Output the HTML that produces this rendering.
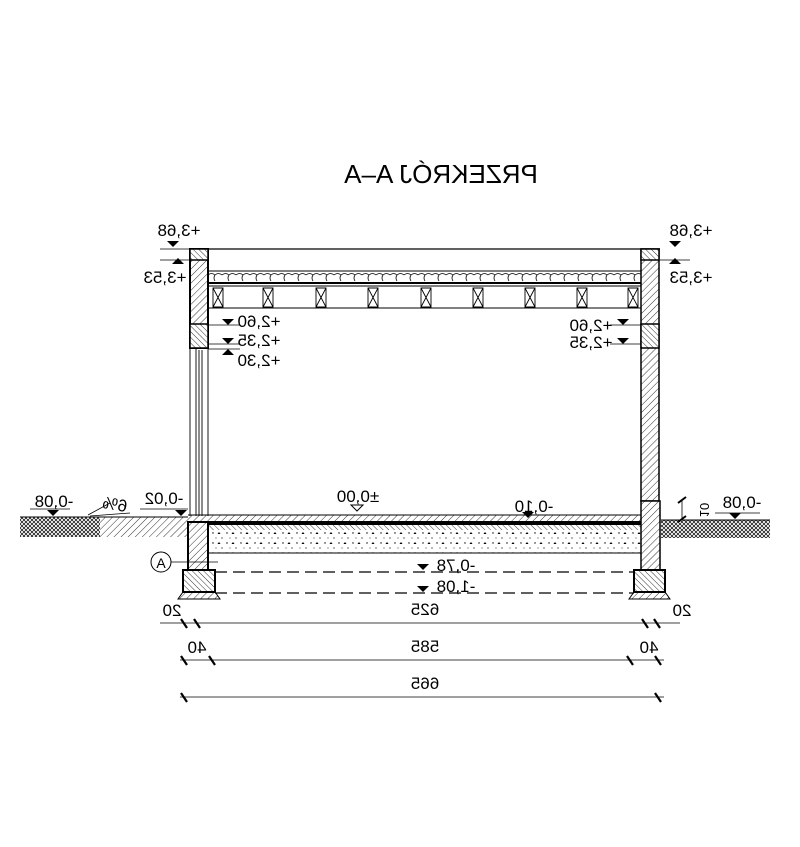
<!DOCTYPE html>
<html><head><meta charset="utf-8"><style>
html,body{margin:0;padding:0;background:#fff}
svg{display:block}
text{font-family:"Liberation Sans",sans-serif;fill:#000}
</style></head><body>
<svg width="800" height="847" viewBox="0 0 800 847" xmlns="http://www.w3.org/2000/svg">
<defs>
<pattern id="h1" width="5" height="5" patternUnits="userSpaceOnUse" patternTransform="rotate(45)">
<line x1="0" y1="0" x2="0" y2="5" stroke="#000" stroke-width="0.8"/></pattern>
<pattern id="h2" width="4" height="4" patternUnits="userSpaceOnUse" patternTransform="rotate(-45)">
<line x1="0" y1="0" x2="0" y2="4" stroke="#000" stroke-width="0.8"/></pattern>
<pattern id="x1" width="4" height="4" patternUnits="userSpaceOnUse">
<path d="M0 0L4 4M4 0L0 4" stroke="#000" stroke-width="0.7"/></pattern>
<pattern id="dots" width="14" height="10" patternUnits="userSpaceOnUse">
<circle cx="3" cy="3" r="0.7"/><path d="M9 2l1.5 2h-3z"/><circle cx="12" cy="8" r="0.6"/><circle cx="6" cy="8" r="0.5"/></pattern>
<pattern id="scal" width="14" height="11" patternUnits="userSpaceOnUse" x="208" y="271">
<path d="M0 4Q3.5 1 7 4Q5 7 7 10M7 4Q10.5 1 14 4" fill="none" stroke="#000" stroke-width="0.8"/></pattern>
</defs>

<text transform="translate(441,183) scale(-1,1)" text-anchor="middle" font-size="26">PRZEKRÓJ A–A</text>

<line x1="190" y1="249" x2="660" y2="249" stroke="#000" stroke-width="1.2"/>
<rect x="208" y="271" width="433" height="11" fill="url(#scal)"/>
<line x1="208" y1="271" x2="641" y2="271" stroke="#000"/>
<line x1="208" y1="283" x2="641" y2="283" stroke="#000" stroke-width="2"/>
<line x1="208" y1="286" x2="641" y2="286" stroke="#000"/>
<line x1="208" y1="308" x2="641" y2="308" stroke="#000"/>
<g stroke="#000" fill="none" stroke-width="0.9">
<path d="M213 288h10v19h-10zM213 288l10 19M223 288l-10 19"/>
<path d="M263 288h10v19h-10zM263 288l10 19M273 288l-10 19"/>
<path d="M316 288h10v19h-10zM316 288l10 19M326 288l-10 19"/>
<path d="M368 288h10v19h-10zM368 288l10 19M378 288l-10 19"/>
<path d="M421 288h10v19h-10zM421 288l10 19M431 288l-10 19"/>
<path d="M473 288h10v19h-10zM473 288l10 19M483 288l-10 19"/>
<path d="M525 288h10v19h-10zM525 288l10 19M535 288l-10 19"/>
<path d="M577 288h10v19h-10zM577 288l10 19M587 288l-10 19"/>
<path d="M628 288h10v19h-10zM628 288l10 19M638 288l-10 19"/>
</g>

<rect x="190" y="249" width="18" height="99" fill="url(#h1)" stroke="#000" stroke-width="2"/>
<rect x="190" y="249" width="18" height="11" fill="#fff" stroke="#000" stroke-width="1.5"/>
<rect x="190" y="249" width="18" height="11" fill="url(#h2)"/>
<rect x="190" y="324" width="18" height="24" fill="#fff" stroke="#000" stroke-width="1.5"/>
<rect x="190" y="324" width="18" height="24" fill="url(#h2)"/>
<g stroke="#000" stroke-width="0.9">
<line x1="190" y1="348" x2="190" y2="516"/><line x1="196" y1="348" x2="196" y2="516"/>
<line x1="199" y1="350" x2="199" y2="516"/><line x1="202" y1="350" x2="202" y2="516"/>
<line x1="208" y1="348" x2="208" y2="516"/>
</g>

<rect x="641" y="249" width="18" height="252" fill="url(#h1)" stroke="#000" stroke-width="1.5"/>
<rect x="641" y="249" width="18" height="11" fill="#fff" stroke="#000" stroke-width="1.5"/>
<rect x="641" y="249" width="18" height="11" fill="url(#h2)"/>
<rect x="641" y="324" width="18" height="24" fill="#fff" stroke="#000" stroke-width="1.5"/>
<rect x="641" y="324" width="18" height="24" fill="url(#h2)"/>

<rect x="20" y="517" width="80" height="20" fill="url(#x1)"/>
<rect x="100" y="517" width="88" height="20" fill="url(#h1)"/>
<line x1="20" y1="517" x2="188" y2="517" stroke="#000"/>
<rect x="661" y="520" width="109" height="18" fill="url(#x1)"/>
<line x1="661" y1="520" x2="770" y2="520" stroke="#000"/>

<rect x="188" y="515" width="453" height="6" fill="url(#h1)"/>
<line x1="188" y1="515" x2="641" y2="515" stroke="#000"/>
<rect x="208" y="521" width="433" height="4" fill="#000"/>
<rect x="208" y="525" width="433" height="5" fill="url(#h2)"/>
<rect x="208" y="530" width="433" height="23" fill="url(#dots)"/>
<line x1="208" y1="553" x2="641" y2="553" stroke="#000"/>

<rect x="188" y="522" width="20" height="48" fill="#fff" stroke="#000" stroke-width="2"/>
<rect x="188" y="522" width="20" height="48" fill="url(#h1)"/>
<rect x="641" y="501" width="19" height="69" fill="#fff" stroke="#000" stroke-width="1.5"/>
<rect x="641" y="501" width="19" height="69" fill="url(#h1)"/>
<rect x="183" y="570" width="32" height="22" fill="#fff" stroke="#000" stroke-width="2"/>
<rect x="183" y="570" width="32" height="22" fill="url(#h2)"/>
<path d="M183 592h32l5 7h-42z" fill="url(#h1)" stroke="#000"/>
<rect x="634" y="570" width="31" height="22" fill="#fff" stroke="#000" stroke-width="2"/>
<rect x="634" y="570" width="31" height="22" fill="url(#h2)"/>
<path d="M634 592h31l5 7h-41z" fill="url(#h1)" stroke="#000"/>

<g stroke="#000" stroke-width="1.3" stroke-dasharray="12,6">
<line x1="215" y1="572" x2="634" y2="572"/><line x1="215" y1="593" x2="634" y2="593"/>
</g>
<circle cx="161" cy="562" r="10" fill="#fff" stroke="#000"/>
<text transform="translate(161,568)" text-anchor="middle" font-size="14">A</text>
<line x1="171" y1="562" x2="218" y2="562" stroke="#000" stroke-width="0.8"/>

<g fill="#000">
<path d="M167 241h12l-6 6z"/><path d="M172 264l6-6 6 6z"/>
<path d="M222 319h12l-6 6z"/><path d="M222 338h12l-6 6z"/><path d="M222 355l6-6 6 6z"/>
<path d="M669 241h12l-6 6z"/><path d="M669 264l6-6 6 6z"/>
<path d="M617 319h12l-6 6z"/><path d="M617 338h12l-6 6z"/>
<path d="M47 510h12l-6 6z"/><path d="M175 510h12l-6 6z"/>
<path d="M522 512h12l-6 6z"/><path d="M729 513h12l-6 6z"/>
<path d="M417 564h12l-6 6z"/><path d="M417 586h12l-6 6z"/>
</g>
<path d="M351 505h12l-6 6z" fill="#fff" stroke="#000"/>
<g stroke="#000" stroke-width="0.8">
<line x1="160" y1="249" x2="190" y2="249"/><line x1="160" y1="260" x2="190" y2="260"/>
<line x1="208" y1="325" x2="240" y2="325"/><line x1="208" y1="344" x2="240" y2="344"/><line x1="208" y1="349" x2="240" y2="349"/>
<line x1="660" y1="260" x2="690" y2="260"/>
<line x1="610" y1="325" x2="641" y2="325"/><line x1="610" y1="344" x2="641" y2="344"/>
<line x1="30" y1="509" x2="70" y2="509"/><line x1="140" y1="509" x2="188" y2="509"/>
<line x1="715" y1="513" x2="760" y2="513"/>
<line x1="90" y1="516" x2="130" y2="513"/>
<line x1="88" y1="515" x2="110" y2="503"/>
<line x1="682" y1="500" x2="682" y2="520"/>
</g>
<path d="M678 503l8-6M678 522l8-6" stroke="#000" stroke-width="2"/>

<g font-size="17">
<text transform="translate(179,236) scale(-1,1)" text-anchor="middle">+3,68</text>
<text transform="translate(165,283) scale(-1,1)" text-anchor="middle">+3,53</text>
<text transform="translate(259,327) scale(-1,1)" text-anchor="middle">+2,60</text>
<text transform="translate(259,346) scale(-1,1)" text-anchor="middle">+2,35</text>
<text transform="translate(259,366) scale(-1,1)" text-anchor="middle">+2,30</text>
<text transform="translate(691,236) scale(-1,1)" text-anchor="middle">+3,68</text>
<text transform="translate(691,283) scale(-1,1)" text-anchor="middle">+3,53</text>
<text transform="translate(591,331) scale(-1,1)" text-anchor="middle">+2,60</text>
<text transform="translate(591,348) scale(-1,1)" text-anchor="middle">+2,35</text>
<text transform="translate(54,507) scale(-1,1)" text-anchor="middle">-0,08</text>
<text transform="translate(114,510) scale(-1,1) rotate(-10)" text-anchor="middle">6%</text>
<text transform="translate(164,504) scale(-1,1)" text-anchor="middle">-0,02</text>
<text transform="translate(358,502) scale(-1,1)" text-anchor="middle">±0,00</text>
<text transform="translate(534,512) scale(-1,1)" text-anchor="middle">-0,10</text>
<text transform="translate(742,508) scale(-1,1)" text-anchor="middle">-0,08</text>
<text transform="translate(700,510) rotate(90) scale(-1,1)" text-anchor="middle" font-size="13">10</text>
<text transform="translate(456,571) scale(-1,1)" text-anchor="middle">-0,78</text>
<text transform="translate(456,592) scale(-1,1)" text-anchor="middle">-1,08</text>
<text transform="translate(172,616) scale(-1,1)" text-anchor="middle">20</text>
<text transform="translate(425,615) scale(-1,1)" text-anchor="middle">625</text>
<text transform="translate(682,616) scale(-1,1)" text-anchor="middle">20</text>
<text transform="translate(197,653) scale(-1,1)" text-anchor="middle">40</text>
<text transform="translate(425,652) scale(-1,1)" text-anchor="middle">585</text>
<text transform="translate(649,653) scale(-1,1)" text-anchor="middle">40</text>
<text transform="translate(425,689) scale(-1,1)" text-anchor="middle">665</text>
</g>

<g stroke="#000" stroke-width="0.8">
<line x1="160" y1="623" x2="680" y2="623"/>
<line x1="180" y1="660" x2="664" y2="660"/>
<line x1="180" y1="697" x2="664" y2="697"/>
</g>
<g stroke="#000" stroke-width="2.2">
<path d="M181 619l6 9M194 619l6 9M642 619l6 9M654 619l6 9"/>
<path d="M181 656l6 9M209 656l6 9M627 656l6 9M655 656l6 9"/>
<path d="M181 693l6 9M655 693l6 9"/>
</g>
</svg>
</body></html>
